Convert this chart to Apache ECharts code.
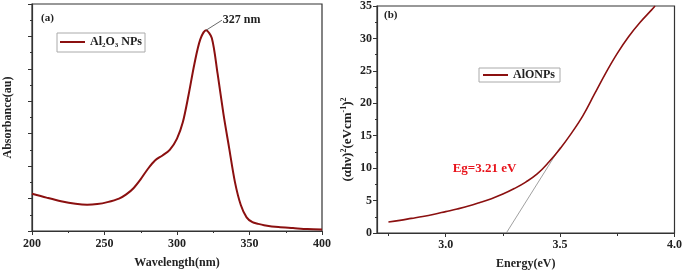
<!DOCTYPE html>
<html>
<head>
<meta charset="utf-8">
<script src="https://cdn.jsdelivr.net/npm/echarts@6/dist/echarts.min.js"></script>
<style>
  html, body { margin: 0; padding: 0; background: #fff; }
  #main { width: 685px; height: 275px; }
</style>
</head>
<body>
<div id="main"></div>
<script>
// (a) UV-vis absorbance
var wavelength = [200, 210, 220, 230, 238, 245, 252, 260, 265, 270, 275, 280, 285, 290, 295, 300, 304, 308, 312, 316, 320, 324, 328, 332, 336, 340, 344, 348, 352, 356, 360, 370, 380, 390, 400];
var absorbance = [1.15, 1.03, 0.92, 0.84, 0.81, 0.83, 0.89, 1.0, 1.13, 1.32, 1.6, 1.92, 2.18, 2.33, 2.5, 2.85, 3.35, 4.2, 5.15, 5.9, 6.19, 5.95, 4.85, 3.62, 2.55, 1.5, 0.8, 0.42, 0.27, 0.22, 0.18, 0.12, 0.09, 0.06, 0.05];
var peakLabel = '327 nm';
var peakLabelAt = [331, 6.5];

// (b) Tauc plot
var energy = [2.75, 2.8, 2.85, 2.9, 2.95, 3.0, 3.05, 3.1, 3.15, 3.2, 3.25, 3.3, 3.35, 3.4, 3.45, 3.5, 3.55, 3.6, 3.65, 3.7, 3.75, 3.8, 3.85, 3.9, 3.915];
var tauc = [1.7, 1.95, 2.25, 2.55, 2.9, 3.3, 3.7, 4.15, 4.7, 5.3, 6.0, 6.85, 7.85, 9.1, 10.9, 13.0, 15.4, 18.1, 21.4, 24.7, 27.7, 30.3, 32.5, 34.4, 35];
var tangentX = [3.265, 3.5];
var tangentY = [0, 13.2];
var energyTicks = [3.0, 3.5, 4.0];
var energyMinorTicks = [2.75, 3.25, 3.75];
var egText = 'Eg=3.21 eV';
var egPos = [3.17, 10.0];

var chart = echarts.init(document.getElementById('main'), null, { renderer: 'canvas' });

var serif = 'Liberation Serif';
var axisColor = '#333';
var curveColor = '#8b1010';

function pairs(xs, ys) {
  return xs.map(function (x, i) { return [x, ys[i]]; });
}

var peakIdx = absorbance.indexOf(Math.max.apply(null, absorbance));

var tickLabel = { fontFamily: serif, fontWeight: 'bold', fontSize: 12, color: '#222' };
var nameStyle = { fontFamily: serif, fontWeight: 'bold', fontSize: 12, color: '#222' };

var option = {
  backgroundColor: '#fff',
  animation: false,
  grid: [
    { left: 32, right: 363, top: 4, bottom: 44, show: true, borderColor: axisColor, borderWidth: 1.2 },
    { left: 377, right: 7, top: 4, bottom: 38, show: true, borderColor: axisColor, borderWidth: 1.2 }
  ],
  legend: [
    {
      left: 57, top: 33, orient: 'horizontal',
      data: ['Al2O3 NPs'],
      itemWidth: 25, itemHeight: 2, itemGap: 4,
      borderColor: '#aaa', borderWidth: 1, padding: [3, 3, 3, 2],
      formatter: function () { return '{t|Al}{s|2}{t|O}{s|3}{t| NPs}'; },
      textStyle: {
        rich: {
          t: { fontFamily: serif, fontWeight: 'bold', fontSize: 12, color: '#222' },
          s: { fontFamily: serif, fontWeight: 'bold', fontSize: 7, color: '#222', padding: [7, 0, 0, 0] }
        }
      }
    },
    {
      left: 479, top: 68,
      data: ['AlONPs'],
      itemWidth: 25, itemHeight: 2, itemGap: 4,
      borderColor: '#aaa', borderWidth: 1, padding: [1, 5, 1, 3],
      textStyle: { fontFamily: serif, fontWeight: 'bold', fontSize: 12, color: '#222' }
    }
  ],
  xAxis: [
    {
      gridIndex: 0, type: 'value', min: 200, max: 400, interval: 50,
      name: 'Wavelength(nm)', nameLocation: 'middle', nameGap: 26, nameTextStyle: nameStyle,
      axisLine: { lineStyle: { color: axisColor, width: 1.2 } },
      axisTick: { length: 4, lineStyle: { color: axisColor } },
      minorTick: { show: true, splitNumber: 2, length: 2, lineStyle: { color: axisColor } },
      axisLabel: Object.assign({ margin: 7 }, tickLabel),
      splitLine: { show: false }
    },
    {
      gridIndex: 1, type: 'value', min: 2.7, max: 4.0,
      name: 'Energy(eV)', nameLocation: 'middle', nameGap: 25, nameTextStyle: nameStyle,
      axisLine: { lineStyle: { color: axisColor, width: 1.2 } },
      axisTick: { length: 4, customValues: energyTicks, lineStyle: { color: axisColor } },
      axisLabel: Object.assign({ margin: 6, customValues: energyTicks, formatter: function (v) { return v.toFixed(1); } }, tickLabel),
      splitLine: { show: false }
    },
    {
      gridIndex: 1, type: 'value', min: 2.7, max: 4.0, position: 'bottom',
      axisLine: { show: false },
      axisTick: { length: 3, customValues: energyMinorTicks, lineStyle: { color: axisColor } },
      axisLabel: { show: false },
      splitLine: { show: false }
    }
  ],
  yAxis: [
    {
      gridIndex: 0, type: 'value', min: 0, max: 7, interval: 1,
      name: 'Absorbance(au)', nameLocation: 'middle', nameGap: 18, nameTextStyle: nameStyle,
      axisLine: { lineStyle: { color: axisColor, width: 1.2 } },
      axisTick: { length: 4, lineStyle: { color: axisColor } },
      minorTick: { show: true, splitNumber: 2, length: 2, lineStyle: { color: axisColor } },
      axisLabel: { show: false },
      splitLine: { show: false }
    },
    {
      gridIndex: 1, type: 'value', min: 0, max: 35, interval: 5,
      name: '(αhν){sup|2}(eVcm{sup|-1}){sup|2}', nameLocation: 'middle', nameGap: 22,
      nameTextStyle: {
        fontFamily: serif, fontWeight: 'bold', fontSize: 13, color: '#222',
        padding: [0, 40, 0, 0],
        rich: {
          sup: { fontFamily: serif, fontWeight: 'bold', fontSize: 8, color: '#222', padding: [0, 0, 7, 0] }
        }
      },
      axisLine: { lineStyle: { color: axisColor, width: 1.2 } },
      axisTick: { length: 4, lineStyle: { color: axisColor } },
      minorTick: { show: true, splitNumber: 2, length: 2, lineStyle: { color: axisColor } },
      axisLabel: Object.assign({ margin: 5 }, tickLabel),
      splitLine: { show: false }
    }
  ],
  graphic: [
    { type: 'text', left: 41, top: 13, style: { text: '(a)', font: 'bold 11px "Liberation Serif"', fill: '#222' } },
    { type: 'text', left: 384, top: 10, style: { text: '(b)', font: 'bold 11px "Liberation Serif"', fill: '#222' } }
  ],
  series: [
    {
      name: 'Al2O3 NPs', type: 'line', xAxisIndex: 0, yAxisIndex: 0,
      data: pairs(wavelength, absorbance), smooth: 0.3, showSymbol: false, symbol: 'none',
      lineStyle: { color: curveColor, width: 2 },
      itemStyle: { color: curveColor },
      markLine: {
        silent: true, symbol: ['none', 'none'], animation: false,
        lineStyle: { color: '#444', width: 0.8, type: 'solid' },
        label: { show: true, position: 'end', distance: 1, formatter: peakLabel, fontFamily: serif, fontWeight: 'bold', fontSize: 12, color: '#222' },
        data: [[{ coord: [wavelength[peakIdx], absorbance[peakIdx]] }, { coord: peakLabelAt }]]
      }
    },
    {
      name: 'AlONPs', type: 'line', xAxisIndex: 1, yAxisIndex: 1,
      data: pairs(energy, tauc), smooth: 0.4, showSymbol: false, symbol: 'none',
      lineStyle: { color: curveColor, width: 1.6 },
      itemStyle: { color: curveColor },
      markPoint: {
        symbol: 'circle', symbolSize: 0,
        label: { show: true, position: 'inside', formatter: egText, fontFamily: serif, fontWeight: 'bold', fontSize: 13, color: '#e8141c' },
        data: [{ coord: egPos }]
      }
    },
    {
      name: 'tangent', type: 'line', xAxisIndex: 1, yAxisIndex: 1,
      data: pairs(tangentX, tangentY), showSymbol: false, symbol: 'none',
      lineStyle: { color: '#888', width: 0.8 },
      z: 1
    }
  ]
};

chart.setOption(option);
</script>
</body>
</html>
